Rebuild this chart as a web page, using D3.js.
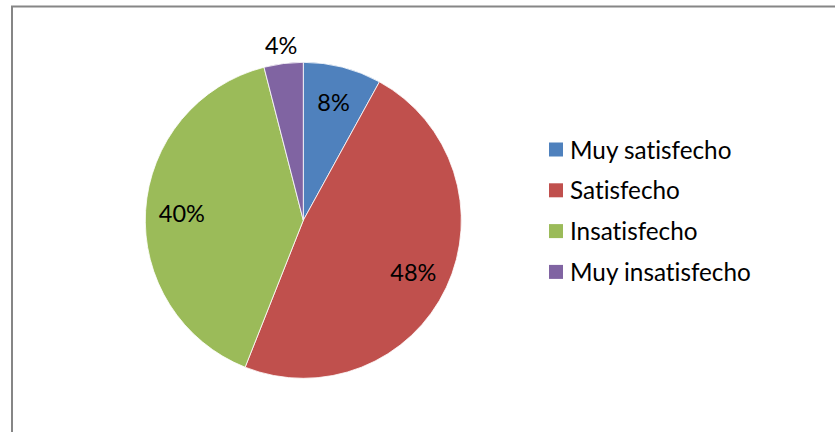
<!DOCTYPE html>
<html><head><meta charset="utf-8">
<script src="https://cdn.jsdelivr.net/npm/d3@7"></script>
<style>html,body{margin:0;padding:0;background:#fff;}svg{display:block;}text{font-variant-ligatures:none;font-feature-settings:"liga" 0;}</style>
</head><body>
<svg id="c" width="835" height="432"></svg>
<script>
const categories = ["Muy satisfecho", "Satisfecho", "Insatisfecho", "Muy insatisfecho"];
const values = [8, 48, 40, 4];
const labels = ["8%", "48%", "40%", "4%"];
const colors = ["#4F81BD", "#C0504D", "#9BBB59", "#8064A2"];

const svg = d3.select("#c");
const font = "Lato, 'Open Sans', sans-serif";
svg.append("rect").attr("x", 12).attr("y", 6.5).attr("width", 840).attr("height", 440)
  .attr("fill", "#fff").attr("stroke", "#868686").attr("stroke-width", 2);

const cx = 303.3, cy = 220.3, R = 158;
const pie = d3.pie().sort(null).value(d => d)(values);
const arc = d3.arc().innerRadius(0).outerRadius(R);
const g = svg.append("g").attr("transform", `translate(${cx},${cy})`);
g.selectAll("path").data(pie).join("path")
  .attr("d", arc).attr("fill", (d, i) => colors[i])
  .attr("stroke", "#fff").attr("stroke-width", 0.8).attr("stroke-linejoin", "round");

// label radial placement (inside for large slices, outside for the smallest)
const labelR = pie.map(d => (d.data >= 5 ? R * 0.77 : R * 1.12));
g.selectAll("text").data(pie).join("text")
  .attr("transform", (d, i) => {
    const a = d3.arc().innerRadius(labelR[i]).outerRadius(labelR[i]).centroid(d);
    return `translate(${a[0]},${a[1]})`;
  })
  .attr("text-anchor", "middle").attr("dominant-baseline", "central")
  .attr("font-family", font).attr("font-size", 23.5).attr("fill", "#000")
  .text((d, i) => labels[i]);

const legend = svg.append("g").attr("transform", "translate(549,149)");
const rowH = 40.8;
const items = legend.selectAll("g").data(categories).join("g")
  .attr("transform", (d, i) => `translate(0,${i * rowH})`);
items.append("rect").attr("x", 0).attr("y", -6.5).attr("width", 14).attr("height", 14)
  .attr("fill", (d, i) => colors[i]);
items.append("text").attr("x", 21).attr("y", 0).attr("dominant-baseline", "central")
  .attr("font-family", font).attr("font-size", 24.3).attr("fill", "#000")
  .text(d => d);
</script>
</body></html>
